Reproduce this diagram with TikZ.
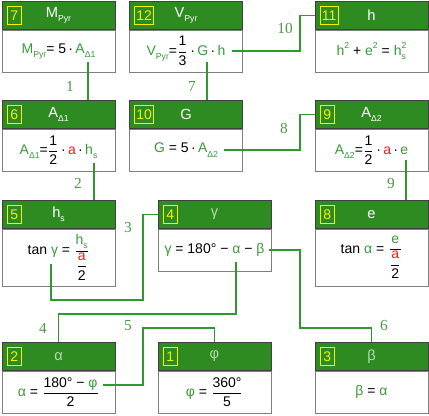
\documentclass[tikz,border=0pt]{standalone}
\usepackage{fontspec}
\setmainfont{Liberation Sans}
\newfontfamily\serifnum{Liberation Serif}
\usepackage{tikz}
\usetikzlibrary{positioning}
\definecolor{headgreen}{HTML}{2E8B22}
\definecolor{linkgreen}{HTML}{2E9A2E}
\definecolor{vargreen}{HTML}{3A9A3A}
\definecolor{tagyellow}{HTML}{F2F200}
\definecolor{framegray}{HTML}{7F7F7F}
\definecolor{greekhead}{HTML}{B4DCAA}
\definecolor{varred}{HTML}{F01E1E}
\definecolor{numgreen}{HTML}{4A9A4A}
\newcommand{\grn}[1]{\textcolor{vargreen}{#1}}
\newcommand{\rd}[1]{\textcolor{varred}{#1}}
\newcommand{\lowr}[1]{\raisebox{-0.55ex}{\fontsize{6.5}{7}\selectfont #1}}
\newcommand{\upr}[1]{\raisebox{0.95ex}{\fontsize{6.5}{7}\selectfont #1}}
\newcommand{\fr}[2]{\ensuremath{\displaystyle\frac{\hbox{#1}}{\hbox{#2}}}}
\tikzset{
  head/.style={draw=black!75, fill=headgreen, minimum width=85pt, minimum height=21pt, inner sep=0pt, text=white, font=\fontsize{11}{13}\selectfont, anchor=north},
  greekhead/.style={head, text=greekhead},
  body/.style={draw=framegray, fill=white, minimum width=85pt, minimum height=32pt, inner sep=0pt, font=\fontsize{10.5}{12}\selectfont},
  tallbody/.style={body, minimum height=42.75pt},
  tag/.style={draw=tagyellow, text=tagyellow, inner sep=1.2pt, minimum height=13.5pt, minimum width=10.5pt, font=\fontsize{10.5}{12}\selectfont},
  link/.style={draw=linkgreen, line width=1pt},
  num/.style={text=numgreen, font=\serifnum\fontsize{11.5}{13}\selectfont}
}
\begin{document}
\begin{tikzpicture}[x=0.75pt, y=-0.75pt]
  \useasboundingbox (0,0) rectangle (429,415);

  \node[head] (h7) at (58.5,1) {M\lowr{Pyr}};
  \node[body, below=0pt of h7] (b7) {\grn{M\lowr{Pyr}}= 5\,·\,\grn{A\lowr{Δ1}}};
  \node[tag, right=4pt of h7.west] (t7) {7};

  \node[head] (h12) at (186,1) {V\lowr{Pyr}};
  \node[body, below=0pt of h12] (b12) {\grn{V\lowr{Pyr}}=\fr{1}{3}\,·\,\grn{G}\,·\,\grn{h}};
  \node[tag, right=4pt of h12.west] (t12) {12};

  \node[head] (h11) at (371.5,1) {h};
  \node[body, below=0pt of h11] (b11) {\grn{h\upr{2}} + \grn{e\upr{2}} = \grn{h\rlap{\lowr{s}}\upr{2}}};
  \node[tag, right=4pt of h11.west] (t11) {11};

  \node[head] (h6) at (58.5,100) {A\lowr{Δ1}};
  \node[body, below=0pt of h6] (b6) {\grn{A\lowr{Δ1}}=\fr{1}{2}\,·\,\rd{a}\,·\,\grn{h\lowr{s}}};
  \node[tag, right=4pt of h6.west] (t6) {6};

  \node[head] (h10) at (186,100) {G};
  \node[body, below=0pt of h10] (b10) {\grn{G} = 5\,·\,\grn{A\lowr{Δ2}}};
  \node[tag, right=4pt of h10.west] (t10) {10};

  \node[head] (h9) at (371.5,100) {A\lowr{Δ2}};
  \node[body, below=0pt of h9] (b9) {\grn{A\lowr{Δ2}}=\fr{1}{2}\,·\,\rd{a}\,·\,\grn{e}};
  \node[tag, right=4pt of h9.west] (t9) {9};

  \node[head] (h5) at (58.5,200) {h\lowr{s}};
  \node[tallbody, below=0pt of h5] (b5) {tan \grn{γ} = \fr{\grn{h\lowr{s}}}{\fr{\rd{a}}{2}}};
  \node[tag, right=4pt of h5.west] (t5) {5};

  \node[greekhead] (h4) at (214.5,200) {γ};
  \node[body, below=0pt of h4] (b4) {\grn{γ} = 180° − \grn{α} − \grn{β}};
  \node[tag, right=4pt of h4.west] (t4) {4};

  \node[head] (h8) at (371.5,200) {e};
  \node[tallbody, below=0pt of h8] (b8) {tan \grn{α} = \fr{\grn{e}}{\fr{\rd{a}}{2}}};
  \node[tag, right=4pt of h8.west] (t8) {8};

  \node[greekhead] (h2) at (58.5,342) {α};
  \node[body, below=0pt of h2] (b2) {\grn{α} = \fr{180° − \grn{φ}}{2}};
  \node[tag, right=4pt of h2.west] (t2) {2};

  \node[greekhead] (h1) at (214.5,342) {φ};
  \node[body, below=0pt of h1] (b1) {\grn{φ} = \fr{360°}{5}};
  \node[tag, right=4pt of h1.west] (t1) {1};

  \node[greekhead] (h3) at (371.5,342) {β};
  \node[body, below=0pt of h3] (b3) {\grn{β} = \grn{α}};
  \node[tag, right=4pt of h3.west] (t3) {3};

  \coordinate (p1) at (88,62);
  \coordinate (p7) at (207,62);
  \coordinate (p10) at (232,51);
  \coordinate (p2) at (94,163);
  \coordinate (p8) at (224,150);
  \coordinate (p9) at (406,160);
  \coordinate (p3) at (51,264);
  \coordinate (p4) at (236,262);
  \coordinate (p6) at (269,250);
  \coordinate (p5) at (103,385);

  \draw[link] (p1) -- (p1 |- h6.north);
  \draw[link] (p7) -- (p7 |- h10.north);
  \draw[link] (p10) -- ++(68,0) |- (h11.west);
  \draw[link] (p2) -- (p2 |- h5.north);
  \draw[link] (p8) -- ++(76,0) |- (h9.west);
  \draw[link] (p9) -- (p9 |- h8.north);
  \draw[link] (p3) -- ++(0,36) -- ++(92,0) |- (h4.west);
  \draw[link] (p4) -- ++(0,52) -| (h2.north);
  \draw[link] (p6) -- ++(31,0) -- ++(0,78) -| (h3.north);
  \draw[link] (p5) -- ++(40,0) -- ++(0,-57) -| (h1.north);

  \node[num] (n1) at (70,86) {1};
  \node[num] (n7) at (192,86) {7};
  \node[num] (n10) at (285,28) {10};
  \node[num] (n2) at (78,183) {2};
  \node[num] (n8) at (284,128) {8};
  \node[num] (n9) at (391,183) {9};
  \node[num] (n3) at (128,227) {3};
  \node[num] (n4) at (43,328) {4};
  \node[num] (n5) at (128,326) {5};
  \node[num] (n6) at (384,325) {6};
\end{tikzpicture}
\end{document}
